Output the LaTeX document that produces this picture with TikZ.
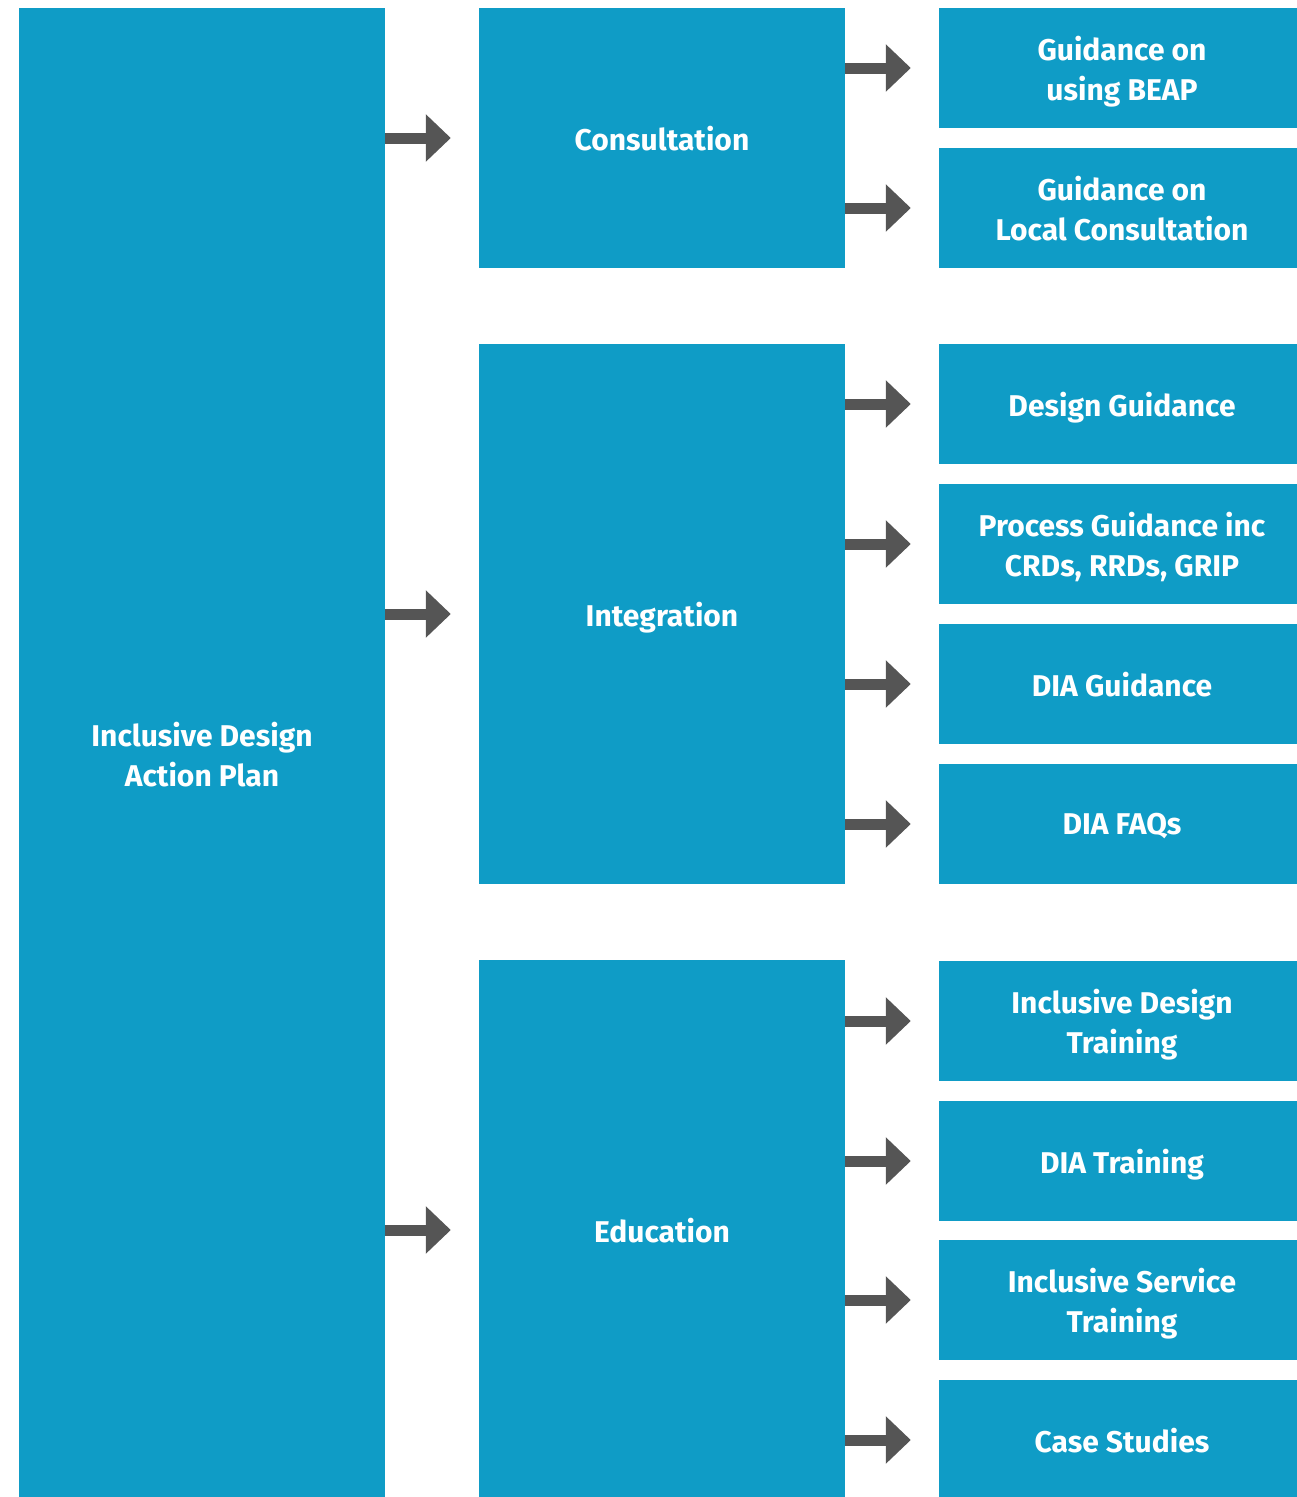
\documentclass[tikz,border=0pt]{standalone}
\usepackage{fontspec}
\setmainfont{Fira Sans}
\usetikzlibrary{arrows.meta}
\definecolor{boxblue}{HTML}{0F9CC6}
\definecolor{arrowgray}{HTML}{555555}
\begin{document}
\begin{tikzpicture}[x=1pt,y=-1pt,
  box/.style={fill=boxblue,draw=none,inner sep=0pt,text=white,align=center,
    text depth=0pt,font=\fontsize{30}{40}\selectfont\bfseries},
  conn/.style={draw=arrowgray,line width=11pt,shorten >=28pt,
    -{Triangle[length=25pt,width=46pt]}}]
\useasboundingbox (0,0) rectangle (1297,1497);
\newcommand{\bx}[6]{\node[box,minimum width=#4-#2,minimum height=#5-#3] (#1) at ({(#2+#4)/2},{(#3+#5)/2}) {#6};}
\bx{plan}{19}{8}{385}{1500}{Inclusive Design\\Action Plan}
\bx{cons}{479}{8}{845}{268}{Consultation}
\bx{integ}{479}{344}{845}{884}{Integration}
\bx{edu}{479}{960}{845}{1500}{Education}
\bx{r1}{939}{8}{1297}{128}{\hspace*{8pt}Guidance on\\\hspace*{8pt}using BEAP}
\bx{r2}{939}{148}{1297}{268}{\hspace*{8pt}Guidance on\\\hspace*{8pt}Local Consultation}
\bx{r3}{939}{344}{1297}{464}{\hspace*{8pt}Design Guidance}
\bx{r4}{939}{484}{1297}{604}{\hspace*{8pt}Process Guidance inc\\\hspace*{8pt}CRDs, RRDs, GRIP}
\bx{r5}{939}{624}{1297}{744}{\hspace*{8pt}DIA Guidance}
\bx{r6}{939}{764}{1297}{884}{\hspace*{8pt}DIA FAQs}
\bx{r7}{939}{961}{1297}{1081}{\hspace*{8pt}Inclusive Design\\\hspace*{8pt}Training}
\bx{r8}{939}{1101}{1297}{1221}{\hspace*{8pt}DIA Training}
\bx{r9}{939}{1240}{1297}{1360}{\hspace*{8pt}Inclusive Service\\\hspace*{8pt}Training}
\bx{r10}{939}{1380}{1297}{1500}{\hspace*{8pt}Case Studies}
\foreach \m in {cons,integ,edu} \draw[conn] (plan.east |- \m.west) -- (\m.west);
\foreach \r in {r1,r2} \draw[conn] (cons.east |- \r.west) -- (\r.west);
\foreach \r in {r3,r4,r5,r6} \draw[conn] (integ.east |- \r.west) -- (\r.west);
\foreach \r in {r7,r8,r9,r10} \draw[conn] (edu.east |- \r.west) -- (\r.west);
\end{tikzpicture}
\end{document}
